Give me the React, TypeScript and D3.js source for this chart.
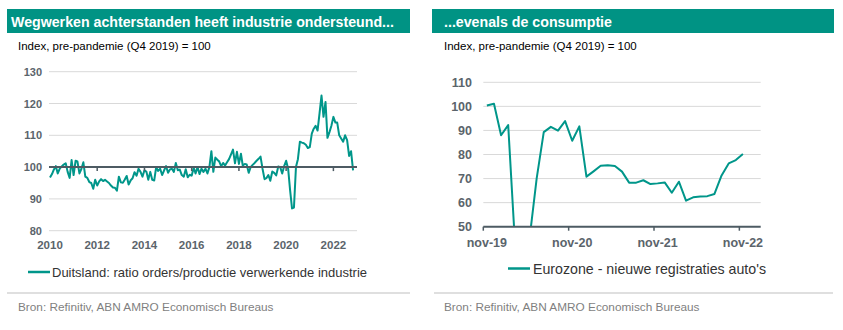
import React from "react";
import * as d3 from "d3";

// ---------- Data ----------
// Left: Germany ratio orders/production manufacturing, monthly Jan 2010 - Nov 2022
const leftStart = "2010-01";
const left2010 = [96.7, 97.8, 99.2, 100.3, 98.0, 99.5, 100.2, 100.8, 101.2, 98.5, 96.6, 102.2];
const left2011 = [97.5, 102.0, 101.8, 98.0, 99.4, 101.5, 97.0, 96.6, 95.3, 95.0, 93.2, 96.0];
const left2012 = [94.2, 95.5, 96.2, 95.6, 96.0, 95.5, 95.0, 94.2, 93.6, 93.5, 92.6, 97.0];
const left2013 = [95.2, 95.1, 96.0, 97.2, 94.5, 95.8, 96.5, 98.4, 97.3, 99.5, 98.5, 97.0];
const left2014 = [99.0, 98.5, 96.0, 98.5, 96.0, 95.8, 100.0, 98.8, 99.5, 97.5, 99.0, 100.3];
const left2015 = [98.2, 99.3, 99.5, 98.5, 101.3, 99.0, 99.2, 97.5, 97.0, 99.3, 96.8, 97.6];
const left2016 = [97.3, 99.8, 98.0, 100.0, 97.8, 99.5, 98.5, 99.5, 98.0, 100.0, 105.0, 98.5];
const left2017 = [103.0, 102.3, 101.8, 100.3, 101.3, 100.5, 101.5, 102.5, 104.0, 105.5, 101.2, 104.8];
const left2018 = [101.0, 104.2, 100.5, 101.0, 100.8, 98.2, 100.0, 100.7, 101.3, 102.0, 102.6, 103.3];
const left2019 = [99.5, 96.2, 96.5, 97.5, 95.7, 98.6, 98.2, 97.4, 100.2, 100.0, 98.0, 100.3];
const left2020 = [102.0, 99.5, 93.0, 87.0, 87.3, 100.0, 102.5, 108.0, 107.7, 107.5, 107.0, 106.0];
const left2021 = [106.3, 110.5, 112.0, 113.0, 111.5, 117.0, 122.5, 115.8, 120.5, 109.2, 111.0, 113.0];
const left2022 = [115.8, 114.0, 114.0, 110.0, 109.0, 108.0, 110.0, 108.5, 103.5, 105.0, 99.0];
const leftValues = [
  ...left2010, ...left2011, ...left2012, ...left2013, ...left2014, ...left2015, ...left2016,
  ...left2017, ...left2018, ...left2019, ...left2020, ...left2021, ...left2022,
];
const leftYTicks = [80, 90, 100, 110, 120, 130];
const leftXTicks = [2010, 2012, 2014, 2016, 2018, 2020, 2022];

// Right: Eurozone new car registrations, monthly nov-19 .. nov-22
const rightMonths = [
  "nov-19", "dec-19", "jan-20", "feb-20", "mrt-20", "apr-20", "mei-20", "jun-20", "jul-20",
  "aug-20", "sep-20", "okt-20", "nov-20", "dec-20", "jan-21", "feb-21", "mrt-21", "apr-21",
  "mei-21", "jun-21", "jul-21", "aug-21", "sep-21", "okt-21", "nov-21", "dec-21", "jan-22",
  "feb-22", "mrt-22", "apr-22", "mei-22", "jun-22", "jul-22", "aug-22", "sep-22", "okt-22",
  "nov-22", "dec-22", "jan-23",
];
const rightValues = [
  100.4, 101.1, 88.0, 92.2, 40.7, 22.0, 45.0, 70.0, 89.3, 91.5, 89.9, 93.9, 85.7, 91.7,
  70.8, 73.0, 75.3, 75.5, 75.2, 72.9, 68.3, 68.3, 69.3, 67.7, 68.0, 68.4, 64.1, 68.7,
  60.8, 62.2, 62.5, 62.7, 63.6, 71.3, 76.3, 77.7, 80.2,
];
const rightYTicks = [50, 60, 70, 80, 90, 100, 110];
const rightXTicks = ["nov-19", "nov-20", "nov-21", "nov-22"];

const leftTitle = "Wegwerken achterstanden heeft industrie ondersteund...";
const rightTitle = "...evenals de consumptie";
const subtitle = "Index, pre-pandemie (Q4 2019) = 100";
const leftLegend = "Duitsland: ratio orders/productie verwerkende industrie";
const rightLegend = "Eurozone - nieuwe registraties auto's";
const source = "Bron: Refinitiv, ABN AMRO Economisch Bureaus";

// ---------- Styles ----------
const TEAL = "#00968a";
const BAR = "#009384";
const GRID = "#d9d9d9";
const AXIS = "#4d5b63";
const LABEL = "#5b646b";
const FONT = "'Liberation Sans', Arial, sans-serif";

export default function App() {
  // Left chart scales
  const parse = d3.timeParse("%Y-%m");
  const t0 = parse(leftStart)!;
  const leftDates = leftValues.map((_, i) => d3.timeMonth.offset(t0, i));
  const lx = d3.scaleTime().domain([t0, new Date(2023, 0, 1)]).range([50, 357]);
  const ly = d3.scaleLinear().domain([80, 130]).range([230.7, 71.7]);
  const lLine = d3
    .line<number>()
    .x((_, i) => lx(leftDates[i]))
    .y((d) => ly(d));

  // Right chart scales
  const rx = d3.scaleBand<string>().domain(rightMonths).range([483.3, 760.7]);
  const ry = d3.scaleLinear().domain([50, 110]).range([226.7, 82.3]);
  const rLine = d3
    .line<number>()
    .x((_, i) => (rx(rightMonths[i]) as number) + rx.bandwidth() / 2)
    .y((d) => ry(d));

  return (
    <svg
      width={843}
      height={330}
      style={{ position: "absolute", left: 0, top: 0, background: "#fff" }}
      fontFamily={FONT}
    >
      <defs>
        <clipPath id="rclip">
          <rect x={483} y={60} width={280} height={ry(50) - 60} />
        </clipPath>
      </defs>

      {/* ---------- LEFT PANEL ---------- */}
      <rect x={7} y={9} width={403} height={24} fill={BAR} />
      <text x={11} y={27} fill="#fff" fontSize={14.2} fontWeight="bold">
        {leftTitle}
      </text>
      <text x={18} y={50} fill="#000" fontSize={11.5}>
        {subtitle}
      </text>

      {leftYTicks.map((t) => (
        <g key={t}>
          {t !== 100 && (
            <line x1={49} x2={357} y1={ly(t)} y2={ly(t)} stroke={GRID} strokeWidth={1} />
          )}
          <text
            x={42}
            y={ly(t) + 4}
            textAnchor="end"
            fill={LABEL}
            fontSize={11}
            fontWeight="bold"
          >
            {t}
          </text>
        </g>
      ))}
      <path d={lLine(leftValues) ?? ""} fill="none" stroke={TEAL} strokeWidth={2} strokeLinejoin="round" />
      <line x1={49} x2={357} y1={ly(100)} y2={ly(100)} stroke={AXIS} strokeWidth={2} />
      {leftXTicks.map((yr) => {
        const x = lx(new Date(yr, 0, 1));
        return (
          <g key={yr}>
            {yr !== 2010 && <line x1={x} x2={x} y1={ly(100)} y2={ly(100) + 4} stroke={AXIS} strokeWidth={1.5} />}
            <text x={x} y={249} textAnchor="middle" fill={LABEL} fontSize={11.5} fontWeight="bold">
              {yr}
            </text>
          </g>
        );
      })}
      <line x1={28} x2={50} y1={272} y2={272} stroke={TEAL} strokeWidth={2.5} />
      <text x={52} y={276.5} fill="#333" fontSize={13}>
        {leftLegend}
      </text>
      <line x1={7} x2={410} y1={293} y2={293} stroke="#bfbfbf" strokeWidth={1} />
      <text x={18} y={311} fill="#7f7f7f" fontSize={11.8}>
        {source}
      </text>

      {/* ---------- RIGHT PANEL ---------- */}
      <rect x={432} y={9} width={402} height={24} fill={BAR} />
      <text x={444} y={27} fill="#fff" fontSize={14.2} fontWeight="bold">
        {rightTitle}
      </text>
      <text x={444} y={50} fill="#000" fontSize={11.5}>
        {subtitle}
      </text>

      {rightYTicks.map((t) => (
        <g key={t}>
          {t !== 50 && (
            <line x1={483.3} x2={760.7} y1={ry(t)} y2={ry(t)} stroke={GRID} strokeWidth={1} />
          )}
          <text
            x={472}
            y={ry(t) + 4.5}
            textAnchor="end"
            fill={LABEL}
            fontSize={12.5}
            fontWeight="bold"
          >
            {t}
          </text>
        </g>
      ))}
      <path
        d={rLine(rightValues) ?? ""}
        fill="none"
        stroke={TEAL}
        strokeWidth={2}
        strokeLinejoin="round"
        clipPath="url(#rclip)"
      />
      <line x1={483.3} x2={760.7} y1={ry(50)} y2={ry(50)} stroke={AXIS} strokeWidth={2} />
      {rightXTicks.map((m) => {
        const x0 = rx(m) as number;
        return (
          <g key={m}>
            <line x1={x0} x2={x0} y1={ry(50)} y2={ry(50) + 4} stroke={AXIS} strokeWidth={1.5} />
            <text
              x={x0 + rx.bandwidth() / 2}
              y={247}
              textAnchor="middle"
              fill={LABEL}
              fontSize={12.5}
              fontWeight="bold"
            >
              {m}
            </text>
          </g>
        );
      })}
      <line x1={508} x2={530} y1={268.5} y2={268.5} stroke={TEAL} strokeWidth={2.5} />
      <text x={533} y={273.5} fill="#333" fontSize={14.2}>
        {rightLegend}
      </text>
      <line x1={434} x2={833} y1={293} y2={293} stroke="#bfbfbf" strokeWidth={1} />
      <text x={444} y={311} fill="#7f7f7f" fontSize={11.8}>
        {source}
      </text>
    </svg>
  );
}
